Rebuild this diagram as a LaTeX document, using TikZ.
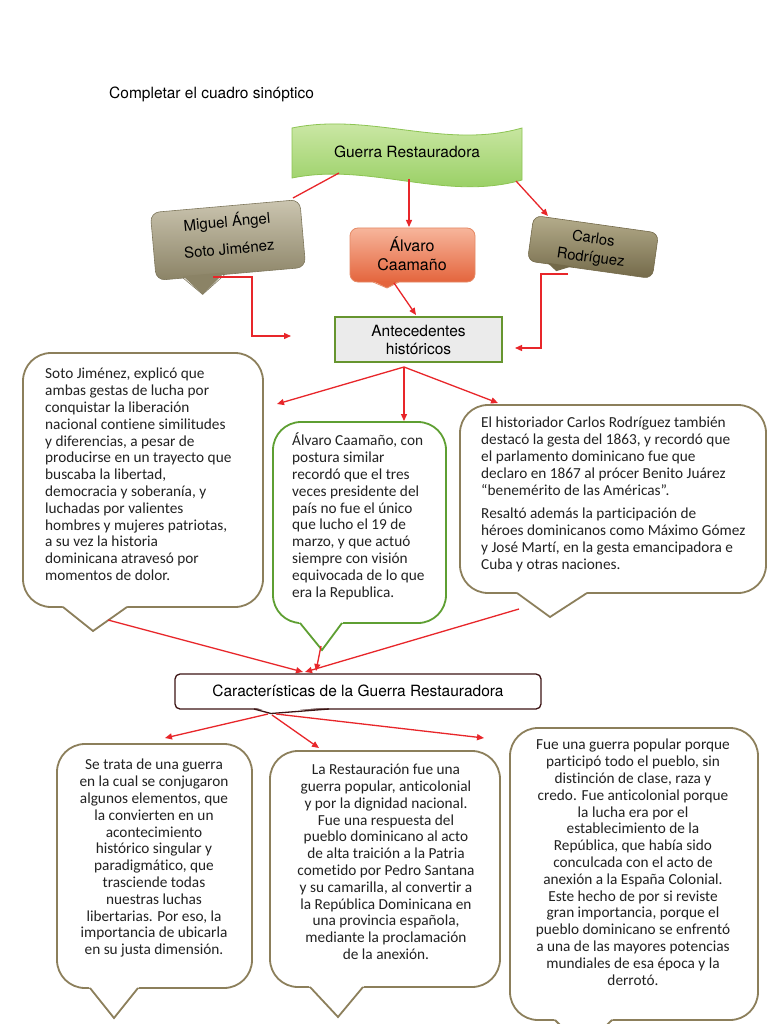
\documentclass[tikz,border=0pt]{standalone}
\usepackage{fontspec}
\newfontfamily\helv{TeX Gyre Heros}
\newfontfamily\cand[Ligatures=NoCommon]{Carlito}
\usetikzlibrary{arrows.meta}
\definecolor{arrRed}{HTML}{E8262A}
\definecolor{bannerTop}{HTML}{D3EBB0}
\definecolor{bannerBot}{HTML}{8FCB57}
\definecolor{bannerLine}{HTML}{8DC453}
\definecolor{migTop}{HTML}{CBC5B0}
\definecolor{migBot}{HTML}{8B8366}
\definecolor{migLine}{HTML}{7E775C}
\definecolor{carTopC}{HTML}{B5AD8C}
\definecolor{carBotC}{HTML}{736949}
\definecolor{alvTopC}{HTML}{F7B59B}
\definecolor{alvBotC}{HTML}{E4653D}
\definecolor{alvLineC}{HTML}{E58A66}
\definecolor{antFill}{HTML}{EBEBEB}
\definecolor{antLine}{HTML}{66952F}
\definecolor{bubLine}{HTML}{8C7F5B}
\definecolor{alvBub}{HTML}{5E9F32}
\definecolor{carLine}{HTML}{3C1414}
\definecolor{txt}{HTML}{222222}
\begin{document}
\begin{tikzpicture}[x=1pt,y=-1pt,
  bubble/.style={draw=bubLine,line width=1.8pt,fill=white,rounded corners=28pt},
  tailline/.style={draw=bubLine,line width=1.8pt,line join=miter},
  btext/.style={font=\cand\fontsize{15.3}{16.8}\selectfont, text=txt, inner sep=0pt},
  htext/.style={font=\helv\fontsize{15.5}{18}\selectfont, inner sep=0pt, align=center},
  redline/.style={draw=arrRed,line width=1.3pt},
  redarr/.style={redline,-{Triangle[length=7pt,width=6pt]}},
]
\useasboundingbox[fill=white] (0,0) rectangle (768,1024);

% title
\node[anchor=base west, font=\helv\fontsize{15.5}{17}\selectfont, inner sep=0pt] (title) at (109,99) {Completar el cuadro sinóptico};

% banner
\shade[top color=bannerTop,bottom color=bannerBot,draw=bannerLine,line width=0.8pt]
  (292,128) .. controls (370,112) and (445,150) .. (522,128) -- (522,180)
  .. controls (445,202) and (370,162) .. (292,178) -- cycle;
\node[htext] (guerra) at (407,152) {Guerra Restauradora};

% Miguel
\begin{scope}[rotate around={5:(228,240)}]
  \shade[top color=migTop,bottom color=migBot,draw=migLine,line width=0.6pt,rounded corners=9pt] (153,206) rectangle (303,274);
  \fill[migBot] (180,272) -- (198,292) -- (222,272) -- cycle;
  \draw[migLine,line width=0.6pt] (180,274) -- (198,292) -- (222,274);
\end{scope}
\node[htext, rotate=5, font=\helv\fontsize{15}{27}\selectfont] (miguel) at (228,234) {Miguel Ángel\\Soto Jiménez};

% Alvaro
\shade[top color=alvTopC,bottom color=alvBotC,draw=alvLineC,line width=0.8pt,rounded corners=8pt] (350,228) rectangle (475,282);
\fill[alvBotC] (373,281) -- (387,288) -- (399,281) -- cycle;
\draw[alvLineC,line width=0.8pt] (373,282) -- (387,288) -- (399,282);
\node[htext, font=\helv\fontsize{16}{18.5}\selectfont] (alvaro) at (412,254) {Álvaro\\Caamaño};

% Carlos
\begin{scope}[rotate around={-8:(593,247)}]
  \shade[top color=carTopC,bottom color=carBotC,draw=carBotC,line width=0.6pt,rounded corners=8pt] (530,224) rectangle (656,270);
  \fill[carBotC] (550,269) -- (560,276) -- (575,269) -- cycle;
\end{scope}
\node[htext, rotate=-8, font=\helv\fontsize{14.8}{19}\selectfont] (carlos) at (592,249) {Carlos\\Rodríguez};

% Antecedentes
\node[htext, draw=antLine, line width=1.8pt, fill=antFill, minimum width=167pt, minimum height=45pt] (ante) at (418.5,339.5) {Antecedentes\\históricos};

% coordinates for connectors
\coordinate (gL) at (339,173);
\coordinate (gM) at (409,179);
\coordinate (gR) at (516,181);
\coordinate (migTopC) at (293,198);
\coordinate (alvTopP) at (409,227);
\coordinate (carTopP) at (548,216);
\coordinate (migOut) at (213,277);
\coordinate (migBend) at (252,336);
\coordinate (antL) at (291,336);
\coordinate (carOut) at (568,274);
\coordinate (carBend) at (541,348);
\coordinate (antR) at (515,348);
\coordinate (alvOut) at (394,283);
\coordinate (antTop) at (416,315);
\coordinate (antB) at (404,367);
\coordinate (sotoIn) at (277,404);
\coordinate (alvBIn) at (404,421);
\coordinate (carBIn) at (498,403);

\draw[redline] (gL) -- (migTopC);
\draw[redarr] (gM) -- (alvTopP);
\draw[redarr] (gR) -- (carTopP);
\draw[redarr] (migOut) -| (migBend) -- (antL);
\draw[redarr] (carOut) -| (carBend) -- (antR);
\draw[redarr] (alvOut) -- (antTop);
\draw[redarr] (antB) -- (sotoIn);
\draw[redarr] (antB) -- (alvBIn);
\draw[redarr] (antB) -- (carBIn);

% Soto bubble
\draw[bubble] (23,353) rectangle (263,607);
\fill[white] (61,605) -- (93,629) -- (129,605) -- cycle;
\draw[tailline] (63,607) -- (93,631) -- (127,607);
\node[btext, anchor=north west, align=left] (sotoText) at (45,368) {Soto Jiménez, explicó que\\
ambas gestas de lucha por\\
conquistar la liberación\\
nacional contiene similitudes\\
y diferencias, a pesar de\\
producirse en un trayecto que\\
buscaba la libertad,\\
democracia y soberanía, y\\
luchadas por valientes\\
hombres y mujeres patriotas,\\
a su vez la historia\\
dominicana atravesó por\\
momentos de dolor.};

% Alvaro bubble
\draw[bubble, draw=alvBub] (273,422) rectangle (446,623);
\fill[white] (298,621) -- (322,648) -- (344,621) -- cycle;
\draw[tailline, draw=alvBub] (300,623) -- (322,650) -- (342,623);
\node[btext, anchor=north west, align=left] (alvText) at (292,433) {Álvaro Caamaño, con\\
postura similar\\
recordó que el tres\\
veces presidente del\\
país no fue el único\\
que lucho el 19 de\\
marzo, y que actuó\\
siempre con visión\\
equivocada de lo que\\
era la Republica.};

% Carlos bubble
\draw[bubble] (460,405) rectangle (766,593);
\fill[white] (515,591) -- (550,615) -- (589,591) -- cycle;
\draw[tailline] (517,593) -- (550,617) -- (587,593);
\node[btext, anchor=north west, align=left] (carText) at (481,417) {El historiador Carlos Rodríguez también\\
destacó la gesta del 1863, y recordó que\\
el parlamento dominicano fue que\\
declaro en 1867 al prócer Benito Juárez\\
“benemérito de las Américas”.\\[7pt]
Resaltó además la participación de\\
héroes dominicanos como Máximo Gómez\\
y José Martí, en la gesta emancipadora e\\
Cuba y otras naciones.};

% connectors to Caracteristicas
\coordinate (sotoOut) at (108,620);
\coordinate (alvOut2) at (321,646);
\coordinate (carOut2) at (519,609);
\coordinate (cIn1) at (303,672);
\coordinate (cIn2) at (316,671);
\coordinate (cIn3) at (305,672);
\draw[redarr] (sotoOut) -- (cIn1);
\draw[redarr] (alvOut2) -- (cIn2);
\draw[redarr] (carOut2) -- (cIn3);

% Caracteristicas
\draw[draw=carLine, line width=1.3pt, fill=white, rounded corners=5pt] (175,674) rectangle (541,709);
\fill[white] (254,707) -- (271,712.5) -- (329,707) -- cycle;
\draw[carLine, line width=1.3pt] (254,709) -- (271,713.5) -- (329,709);
\node[htext] (carac) at (358,691) {Características de la Guerra Restauradora};

\coordinate (cB1) at (268,714);
\coordinate (cB2) at (272,715);
\coordinate (cB3) at (276,714);
\coordinate (b1In) at (165,738);
\coordinate (b2In) at (319,748);
\coordinate (b3In) at (484,738);
\draw[redarr] (cB1) -- (b1In);
\draw[redarr] (cB2) -- (b2In);
\draw[redarr] (cB3) -- (b3In);

% bottom left bubble
\draw[bubble] (57,744) rectangle (252,988);
\fill[white] (88,986) -- (114,1016) -- (140,986) -- cycle;
\draw[tailline] (90,988) -- (114,1018) -- (138,988);
\node[btext, anchor=north, align=center] (b1Text) at (154,759) {Se trata de una guerra\\
en la cual se conjugaron\\
algunos elementos, que\\
la convierten en un\\
acontecimiento\\
histórico singular y\\
paradigmático, que\\
trasciende todas\\
nuestras luchas\\
libertarias. Por eso, la\\
importancia de ubicarla\\
en su justa dimensión.};

% bottom middle bubble
\draw[bubble] (270,751) rectangle (500,987);
\fill[white] (308,985) -- (338,1015) -- (365,985) -- cycle;
\draw[tailline] (310,987) -- (338,1017) -- (363,987);
\node[btext, anchor=north, align=center] (b2Text) at (386,764) {La Restauración fue una\\
guerra popular, anticolonial\\
y por la dignidad nacional.\\
Fue una respuesta del\\
pueblo dominicano al acto\\
de alta traición a la Patria\\
cometido por Pedro Santana\\
y su camarilla, al convertir a\\
la República Dominicana en\\
una provincia española,\\
mediante la proclamación\\
de la anexión.};

% bottom right bubble
\draw[bubble] (510,728) rectangle (758,1020);
\fill[white] (553,1018) -- (583,1046) -- (614,1018) -- cycle;
\draw[tailline] (555,1020) -- (583,1048) -- (612,1020);
\node[btext, anchor=north, align=center] (b3Text) at (633,739) {Fue una guerra popular porque\\
participó todo el pueblo, sin\\
distinción de clase, raza y\\
credo. Fue anticolonial porque\\
la lucha era por el\\
establecimiento de la\\
República, que había sido\\
conculcada con el acto de\\
anexión a la España Colonial.\\
Este hecho de por si reviste\\
gran importancia, porque el\\
pueblo dominicano se enfrentó\\
a una de las mayores potencias\\
mundiales de esa época y la\\
derrotó.};
\end{tikzpicture}
\end{document}
